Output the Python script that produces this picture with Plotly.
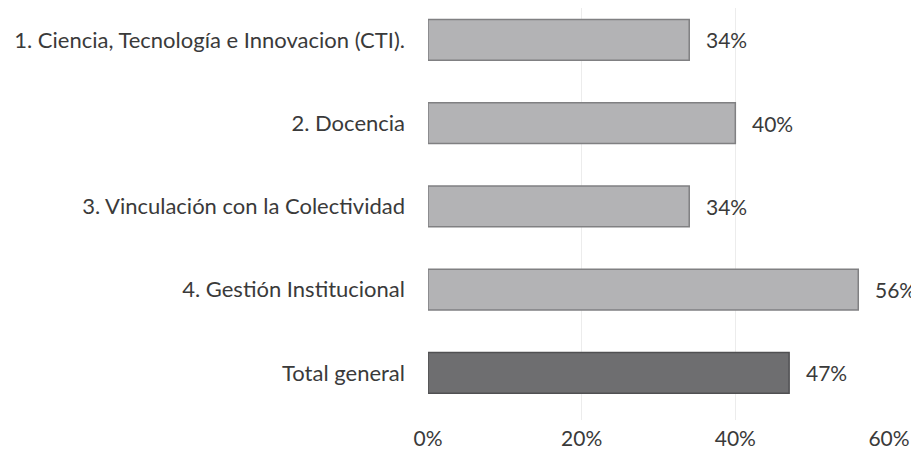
import plotly.graph_objects as go

categories = ["1. Ciencia, Tecnología e Innovacion (CTI).", "2. Docencia",
              "3. Vinculación con la Colectividad", "4. Gestión Institucional",
              "Total general"]
values = [34, 40, 34, 56, 47]
tick_vals = [0, 20, 40, 60]
tick_text = ["0%", "20%", "40%", "60%"]

positions = list(range(len(categories)))
fill_colors = ["#b3b3b5"] * 4 + ["#6e6e70"]
line_colors = ["#808082"] * 4 + ["#505052"]

fig = go.Figure()
fig.add_trace(go.Bar(
    x=values, y=positions, orientation="h", width=0.49,
    marker=dict(color=fill_colors, line=dict(color=line_colors, width=1.5)),
    hoverinfo="skip",
))

for p, v in zip(positions, values):
    fig.add_annotation(x=v, y=p, text=f"{v}%", showarrow=False,
                       xanchor="left", xshift=15,
                       font=dict(size=21, color="#3a3a3a", family="Lato"))

# page body has an 8px margin; compensate so the chart lands as in the reference
fig.update_layout(
    width=911, height=442,
    margin=dict(l=420, r=30, t=0, b=30, autoexpand=False),
    paper_bgcolor="white", plot_bgcolor="white",
    showlegend=False,
    font=dict(family="Lato", size=21, color="#3a3a3a"),
    xaxis=dict(range=[0, 60], tickvals=tick_vals, ticktext=tick_text,
               showgrid=True, gridcolor="#ececec", gridwidth=1,
               zeroline=False, showline=False, ticks="", automargin=False,
               ticklabelstandoff=4, tickfont=dict(size=21)),
    yaxis=dict(range=[4.565, -0.384], tickvals=positions, ticktext=categories,
               showgrid=False, zeroline=False, showline=False, ticks="",
               automargin=False,
               ticklabelstandoff=22, tickfont=dict(size=22)),
)

fig.write_html("out.html")
